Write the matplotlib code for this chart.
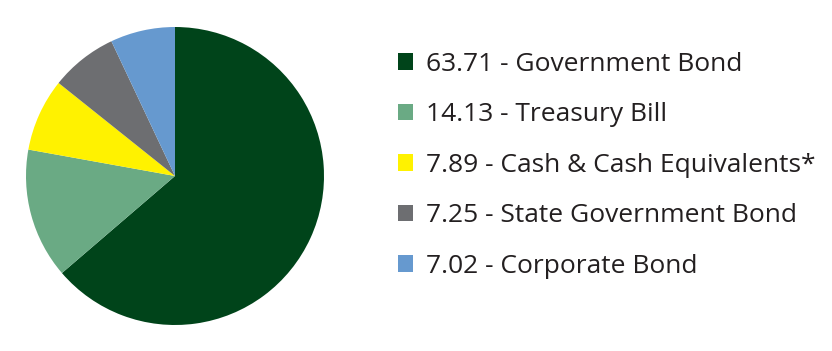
import matplotlib.pyplot as plt

# portfolio allocation (%)
labels = ['Government Bond', 'Treasury Bill', 'Cash & Cash Equivalents*',
          'State Government Bond', 'Corporate Bond']
values = [63.71, 14.13, 7.89, 7.25, 7.02]
colors = ['#00441a', '#6aaa84', '#fff200', '#6d6e71', '#6699cf']

plt.rcParams['font.family'] = ['Open Sans', 'DejaVu Sans']

fig = plt.figure(figsize=(8.32, 3.51), dpi=100)
ax = fig.add_axes([26/832, 26/351, 298/832, 298/351])
wedges, _ = ax.pie(values, colors=colors, startangle=90, counterclock=False,
                   wedgeprops=dict(linewidth=0))
ax.set_xlim(-1, 1)
ax.set_ylim(-1, 1)
ax.set_aspect('equal')

leg_labels = ['%.2f - %s' % (v, l) for v, l in zip(values, labels)]
fig.legend(wedges, leg_labels, loc='upper left', bbox_to_anchor=(398/832, 1 - 52/351),
           frameon=False, fontsize=19, handlelength=0.58, handleheight=0.58,
           handletextpad=0.5, labelspacing=0.965, borderpad=0, borderaxespad=0,
           labelcolor='#231f20')

fig.savefig('out.png', dpi=100)
